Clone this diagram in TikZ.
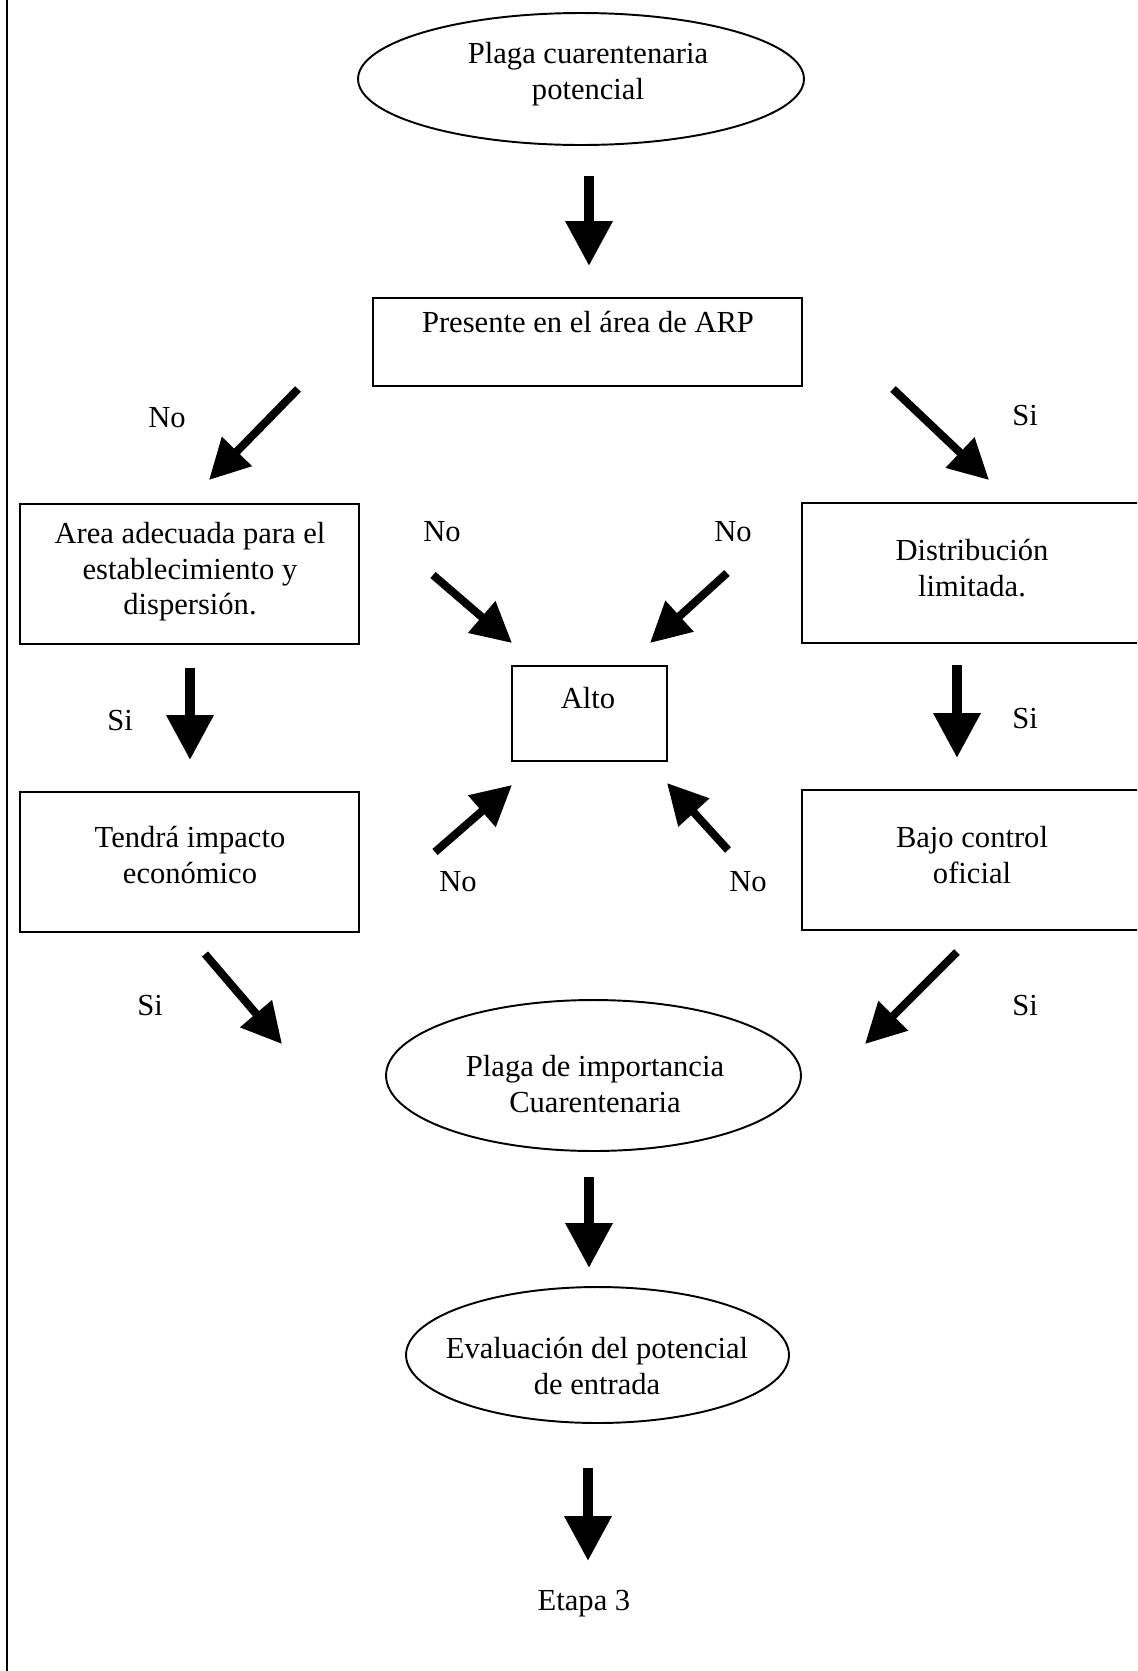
\documentclass[tikz,border=0pt]{standalone}
\usepackage{fontspec}
\setmainfont{Liberation Serif}
\usetikzlibrary{arrows.meta,shapes.geometric}
\newcommand{\fs}{\fontsize{17.4}{20.2}\selectfont}
\begin{document}
\begin{tikzpicture}[x=0.02cm,y=-0.02cm,
  box/.style={draw, line width=1.1pt, inner sep=0pt},
  oval/.style={ellipse, draw, line width=1.1pt, inner sep=0pt},
  txt/.style={align=center, inner sep=0pt, font=\fs},
  bigarrow/.style={line width=0.2cm, -{Triangle[width=0.9cm,length=0.9cm]}},
  diagarrow/.style={line width=0.16cm, -{Triangle[width=0.8cm,length=0.8cm]}}]
\useasboundingbox (0,0) rectangle (1137,1671);
\clip (0,0) rectangle (1137,1671);
\fill[white] (0,0) rectangle (1137,1671);
% left border
\coordinate (lt) at (7,0);
\coordinate (lb) at (7,1671);
\draw[line width=1.1pt] (lt) -- (lb);
% shapes
\node[oval, minimum width=8.92cm, minimum height=2.64cm] (e1) at (581,79) {};
\node[txt] (e1t) at (588,74) {Plaga cuarentenaria\\potencial};
\node[box, minimum width=8.58cm, minimum height=1.76cm] (pres) at (587.5,342) {};
\node[txt] (prest) at (588,322) {Presente en el área de ARP};
\node[box, minimum width=6.78cm, minimum height=2.8cm] (area) at (189.5,574) {};
\node[txt] (areat) at (190,572) {Area adecuada para el\\establecimiento y\\dispersión.};
\node[box, minimum width=7.56cm, minimum height=2.8cm] (dist) at (991,573) {};
\node[txt] (distt) at (972,568) {Distribución\\limitada.};
\node[box, minimum width=3.1cm, minimum height=1.9cm] (alto) at (589.5,713.5) {};
\node[txt] (altot) at (588,698) {Alto};
\node[box, minimum width=6.78cm, minimum height=2.8cm] (tend) at (189.5,862) {};
\node[txt] (tendt) at (190,855) {Tendrá impacto\\económico};
\node[box, minimum width=7.56cm, minimum height=2.8cm] (bajo) at (991,860) {};
\node[txt] (bajot) at (972,855) {Bajo control\\oficial};
\node[oval, minimum width=8.3cm, minimum height=3.02cm] (e2) at (593.5,1075.5) {};
\node[txt] (e2t) at (595,1084) {Plaga de importancia\\Cuarentenaria};
\node[oval, minimum width=7.66cm, minimum height=2.72cm] (e3) at (597.5,1355) {};
\node[txt] (e3t) at (597,1366) {Evaluación del potencial\\de entrada};
\node[txt] (etapa) at (584,1604) {Etapa 3};
% labels
\node[txt] (l1) at (167,418) {No};
\node[txt] (l2) at (1025,416) {Si};
\node[txt] (l3) at (442,532) {No};
\node[txt] (l4) at (733,532) {No};
\node[txt] (l5) at (120,721) {Si};
\node[txt] (l6) at (1025,719) {Si};
\node[txt] (l7) at (458,882) {No};
\node[txt] (l8) at (748,882) {No};
\node[txt] (l9) at (150,1006) {Si};
\node[txt] (l10) at (1025,1006) {Si};
% arrow ends
\coordinate (a1s) at (589,176);  \coordinate (a1e) at (589,266);
\coordinate (a2s) at (298,389);  \coordinate (a2e) at (209,480);
\coordinate (a3s) at (893,389);  \coordinate (a3e) at (989,480);
\coordinate (a4s) at (190,668);  \coordinate (a4e) at (190,760);
\coordinate (a5s) at (957,665);  \coordinate (a5e) at (957,758);
\coordinate (a6s) at (433,575);  \coordinate (a6e) at (512,643);
\coordinate (a7s) at (727,573);  \coordinate (a7e) at (650,643);
\coordinate (a8s) at (435,852);  \coordinate (a8e) at (512,785);
\coordinate (a9s) at (728,850);  \coordinate (a9e) at (667,783);
\coordinate (a10s) at (205,954); \coordinate (a10e) at (282,1044);
\coordinate (a11s) at (957,952); \coordinate (a11e) at (865,1044);
\coordinate (a12s) at (589,1177); \coordinate (a12e) at (589,1268);
\coordinate (a13s) at (588,1468); \coordinate (a13e) at (588,1561);
% arrows
\draw[bigarrow] (a1s) -- (a1e);
\draw[diagarrow] (a2s) -- (a2e);
\draw[diagarrow] (a3s) -- (a3e);
\draw[bigarrow] (a4s) -- (a4e);
\draw[bigarrow] (a5s) -- (a5e);
\draw[diagarrow] (a6s) -- (a6e);
\draw[diagarrow] (a7s) -- (a7e);
\draw[diagarrow] (a8s) -- (a8e);
\draw[diagarrow] (a9s) -- (a9e);
\draw[diagarrow] (a10s) -- (a10e);
\draw[diagarrow] (a11s) -- (a11e);
\draw[bigarrow] (a12s) -- (a12e);
\draw[bigarrow] (a13s) -- (a13e);
\end{tikzpicture}
\end{document}
